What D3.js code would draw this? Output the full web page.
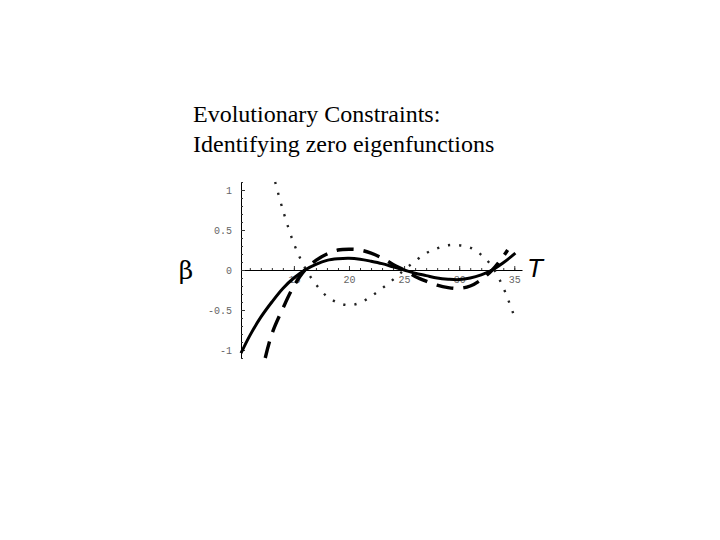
<!DOCTYPE html>
<html>
<head>
<meta charset="utf-8">
<script src="https://cdn.jsdelivr.net/npm/d3@7/dist/d3.min.js"></script>
<style>
  html, body { margin: 0; padding: 0; background: #fff; }
  svg { display: block; }
</style>
</head>
<body>
<script>
// ---- data ----
const titleLines = ["Evolutionary Constraints:", "Identifying zero eigenfunctions"];

const xTickLabels = [15, 20, 25, 30, 35];
const yTickLabels = [-1, -0.5, 0, 0.5, 1];
const yTickText = ["-1", "-0.5", "0", "0.5", "1"];

// solid curve
const solidT    = [10.2, 11, 12, 13, 14, 15, 16, 17, 18, 19, 20, 21, 22, 23, 24, 25, 26, 27, 28, 29, 30, 31, 32, 33, 34, 35.1];
const solidBeta = [-1.04, -0.82, -0.59, -0.40, -0.23, -0.10, 0.0, 0.07, 0.12, 0.14, 0.146, 0.135, 0.11, 0.08, 0.04, 0.0, -0.04, -0.07, -0.10, -0.115, -0.12, -0.10, -0.06, 0.0, 0.09, 0.21];

// dashed curve
const dashedT    = [12.4, 13, 14, 15, 16, 17, 18, 19, 20, 21, 22, 23, 24, 25, 26, 27, 28, 29, 30, 31, 32, 33, 34, 34.4];
const dashedBeta = [-1.10, -0.80, -0.48, -0.20, 0.0, 0.12, 0.20, 0.25, 0.26, 0.25, 0.21, 0.15, 0.07, 0.0, -0.08, -0.14, -0.19, -0.22, -0.23, -0.20, -0.12, 0.0, 0.17, 0.25];

// dotted curve
const dottedT    = [13.3, 14, 15, 16, 17, 18, 19, 20, 21, 22, 23, 24, 25, 26, 27, 28, 29, 30, 31, 32, 33, 34, 35];
const dottedBeta = [1.10, 0.75, 0.33, 0.03, -0.18, -0.33, -0.41, -0.44, -0.41, -0.33, -0.23, -0.12, 0.0, 0.11, 0.21, 0.27, 0.31, 0.31, 0.28, 0.19, 0.04, -0.22, -0.58];

// ---- drawing ----
const W = 720, H = 540;
const svg = d3.select("body").append("svg").attr("width", W).attr("height", H);

// title
svg.append("g").selectAll("text").data(titleLines).join("text")
  .attr("x", 193)
  .attr("y", (d, i) => 122 + i * 29.5)
  .attr("font-family", "'Liberation Serif', 'Times New Roman', serif")
  .attr("font-size", 24)
  .attr("fill", "#000")
  .text(d => d);

const x = d3.scaleLinear().domain([10.2, 35.7]).range([241, 522]);
const y = d3.scaleLinear().domain([-1.1, 1.1]).range([358, 182]);

const tickFont = "'Liberation Mono', 'DejaVu Sans Mono', monospace";

// x axis minor ticks
const xMinor = d3.range(11, 36);
const gxMinor = svg.append("g").attr("transform", `translate(0,${y(0)})`)
  .call(d3.axisBottom(x).tickValues(xMinor).tickSizeInner(-2).tickSizeOuter(0).tickFormat(""));
gxMinor.select(".domain").attr("stroke", "#000").attr("stroke-width", 1.2);
gxMinor.selectAll(".tick line").attr("stroke", "#333");

// x axis major ticks + labels
const gx = svg.append("g").attr("transform", `translate(0,${y(0)})`)
  .call(d3.axisBottom(x).tickValues(xTickLabels).tickSizeInner(-4).tickSizeOuter(0).tickPadding(6).tickFormat(d3.format("d")));
gx.select(".domain").remove();
gx.selectAll(".tick line").attr("stroke", "#333");
gx.selectAll(".tick text").attr("font-family", tickFont).attr("font-size", 10).attr("fill", "#666");

// y axis minor ticks
const yMinor = d3.range(-11, 12).map(v => v / 10);
const gyMinor = svg.append("g").attr("transform", `translate(${x(10.2)},0)`)
  .call(d3.axisLeft(y).tickValues(yMinor).tickSizeInner(-2).tickSizeOuter(0).tickFormat(""));
gyMinor.select(".domain").attr("stroke", "#000").attr("stroke-width", 1);
gyMinor.selectAll(".tick line").attr("stroke", "#333");

// y axis major ticks + labels
const gy = svg.append("g").attr("transform", `translate(${x(10.2)},0)`)
  .call(d3.axisLeft(y).tickValues(yTickLabels).tickSizeInner(-4).tickSizeOuter(0).tickPadding(9)
    .tickFormat((d, i) => yTickText[i]));
gy.select(".domain").remove();
gy.selectAll(".tick line").attr("stroke", "#333");
gy.selectAll(".tick text").attr("font-family", tickFont).attr("font-size", 10).attr("fill", "#666");

// axis labels
svg.append("text").attr("x", 186).attr("y", 279)
  .attr("text-anchor", "middle")
  .attr("font-family", "'DejaVu Serif', serif")
  .attr("font-size", 25).attr("fill", "#000").text("β");
svg.append("text").attr("x", 527).attr("y", 277)
  .attr("font-family", "'Liberation Sans', Arial, sans-serif")
  .attr("font-style", "italic")
  .attr("font-size", 26).attr("fill", "#000").text("T");

const line = d3.line().x(d => x(d[0])).y(d => y(d[1])).curve(d3.curveCatmullRom);

svg.append("path").datum(dottedT.map((t, i) => [t, dottedBeta[i]]))
  .attr("d", line).attr("fill", "none").attr("stroke", "#222")
  .attr("stroke-width", 2.4).attr("stroke-dasharray", "2.2,9");

svg.append("path").datum(dashedT.map((t, i) => [t, dashedBeta[i]]))
  .attr("d", line).attr("fill", "none").attr("stroke", "#000")
  .attr("stroke-width", 3.4).attr("stroke-dasharray", "17,10");

svg.append("path").datum(solidT.map((t, i) => [t, solidBeta[i]]))
  .attr("d", line).attr("fill", "none").attr("stroke", "#000")
  .attr("stroke-width", 3);
</script>
</body>
</html>
